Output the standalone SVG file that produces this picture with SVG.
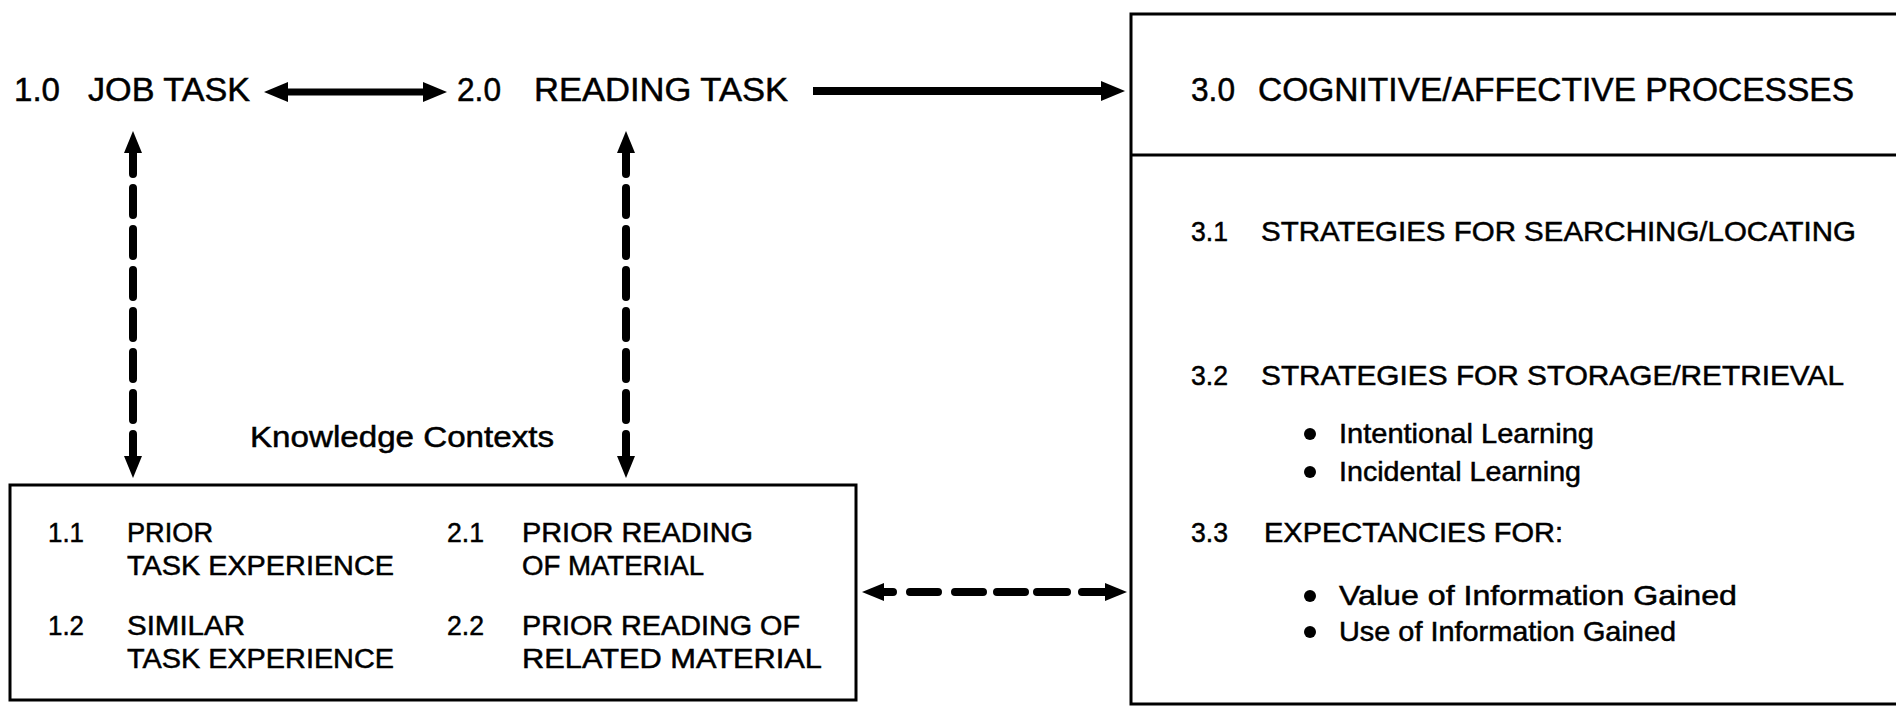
<svg xmlns="http://www.w3.org/2000/svg" width="1896" height="706" viewBox="0 0 1896 706">
<style>
text { font-family: "Liberation Sans", Arial, sans-serif; fill: #000; stroke: #000; stroke-width: 0.5; }
.hd { font-size: 33px; }
.sb { font-size: 28px; }
.lb { font-size: 27px; }
.bl { font-size: 28px; }
.box { fill: none; stroke: #000; stroke-width: 3; }
.solid { fill: none; stroke: #000; stroke-width: 7; }
.dash { fill: none; stroke: #000; stroke-width: 8; stroke-linecap: round; }
</style>
<defs>
<marker id="hs" markerUnits="userSpaceOnUse" markerWidth="26" markerHeight="22" refX="6" refY="10" orient="auto-start-reverse">
<path d="M0,0 L24,10 L0,20 Z" fill="#000"/>
</marker>
<marker id="hd" markerUnits="userSpaceOnUse" markerWidth="24" markerHeight="20" refX="6" refY="9" orient="auto-start-reverse">
<path d="M0,0 L22,9 L0,18 Z" fill="#000"/>
</marker>
</defs>
<rect width="1896" height="706" fill="#fff"/>

<g id="connectors">
<path class="solid" d="M282,92 H429" marker-start="url(#hs)" marker-end="url(#hs)"/>
<path class="solid" style="stroke-width:8" d="M813,91 H1107" marker-end="url(#hs)"/>
<path class="dash" d="M133,147 V462" stroke-dasharray="27 14" marker-start="url(#hd)" marker-end="url(#hd)"/>
<path class="dash" d="M626,147 V462" stroke-dasharray="27 14" marker-start="url(#hd)" marker-end="url(#hd)"/>
<path class="dash" d="M878,592 H893 M910,592 H938 M955,592 H983 M997,592 H1025 M1037,592 H1067 M1082,592 H1111" marker-start="url(#hd)" marker-end="url(#hd)"/>
</g>

<g id="n1-0">
<text class="hd" x="14" y="101" textLength="46" lengthAdjust="spacingAndGlyphs">1.0</text>
<text class="hd" x="88" y="101" textLength="162" lengthAdjust="spacingAndGlyphs">JOB TASK</text>
</g>

<g id="n2-0">
<text class="hd" x="457" y="101" textLength="44" lengthAdjust="spacingAndGlyphs">2.0</text>
<text class="hd" x="534" y="101" textLength="254" lengthAdjust="spacingAndGlyphs">READING TASK</text>
</g>

<g id="n3-0">
<rect class="box" x="1131" y="14" width="800" height="690"/>
<line x1="1131" y1="155" x2="1896" y2="155" stroke="#000" stroke-width="3"/>
<text class="hd" x="1191" y="101" textLength="44" lengthAdjust="spacingAndGlyphs">3.0</text>
<text class="hd" x="1258" y="101" textLength="596" lengthAdjust="spacingAndGlyphs">COGNITIVE/AFFECTIVE PROCESSES</text>
<text class="sb" x="1191" y="241" textLength="37" lengthAdjust="spacingAndGlyphs">3.1</text>
<text class="sb" x="1261" y="241" textLength="595" lengthAdjust="spacingAndGlyphs">STRATEGIES FOR SEARCHING/LOCATING</text>
<text class="sb" x="1191" y="385" textLength="37" lengthAdjust="spacingAndGlyphs">3.2</text>
<text class="sb" x="1261" y="385" textLength="583" lengthAdjust="spacingAndGlyphs">STRATEGIES FOR STORAGE/RETRIEVAL</text>
<circle cx="1310" cy="434" r="6"/>
<text class="bl" x="1339" y="443" textLength="255" lengthAdjust="spacingAndGlyphs">Intentional Learning</text>
<circle cx="1310" cy="472" r="6"/>
<text class="bl" x="1339" y="481" textLength="242" lengthAdjust="spacingAndGlyphs">Incidental Learning</text>
<text class="sb" x="1191" y="542" textLength="37" lengthAdjust="spacingAndGlyphs">3.3</text>
<text class="sb" x="1264" y="542" textLength="299" lengthAdjust="spacingAndGlyphs">EXPECTANCIES FOR:</text>
<circle cx="1310" cy="596" r="6"/>
<text class="bl" x="1339" y="605" textLength="398" lengthAdjust="spacingAndGlyphs">Value of Information Gained</text>
<circle cx="1310" cy="632" r="6"/>
<text class="bl" x="1339" y="641" textLength="337" lengthAdjust="spacingAndGlyphs">Use of Information Gained</text>
</g>

<g id="knowledge-contexts">
<text class="bl" style="font-size:29px" x="250" y="447" textLength="304" lengthAdjust="spacingAndGlyphs">Knowledge Contexts</text>
<rect class="box" x="10" y="485" width="846" height="215"/>
<text class="lb" x="48" y="542" textLength="36" lengthAdjust="spacingAndGlyphs">1.1</text>
<text class="lb" x="127" y="542" textLength="86" lengthAdjust="spacingAndGlyphs">PRIOR</text>
<text class="lb" x="127" y="575" textLength="267" lengthAdjust="spacingAndGlyphs">TASK EXPERIENCE</text>
<text class="lb" x="48" y="635" textLength="36" lengthAdjust="spacingAndGlyphs">1.2</text>
<text class="lb" x="127" y="635" textLength="118" lengthAdjust="spacingAndGlyphs">SIMILAR</text>
<text class="lb" x="127" y="668" textLength="267" lengthAdjust="spacingAndGlyphs">TASK EXPERIENCE</text>
<text class="lb" x="447" y="542" textLength="37" lengthAdjust="spacingAndGlyphs">2.1</text>
<text class="lb" x="522" y="542" textLength="231" lengthAdjust="spacingAndGlyphs">PRIOR READING</text>
<text class="lb" x="522" y="575" textLength="182" lengthAdjust="spacingAndGlyphs">OF MATERIAL</text>
<text class="lb" x="447" y="635" textLength="37" lengthAdjust="spacingAndGlyphs">2.2</text>
<text class="lb" x="522" y="635" textLength="278" lengthAdjust="spacingAndGlyphs">PRIOR READING OF</text>
<text class="lb" x="522" y="668" textLength="300" lengthAdjust="spacingAndGlyphs">RELATED MATERIAL</text>
</g>
</svg>
